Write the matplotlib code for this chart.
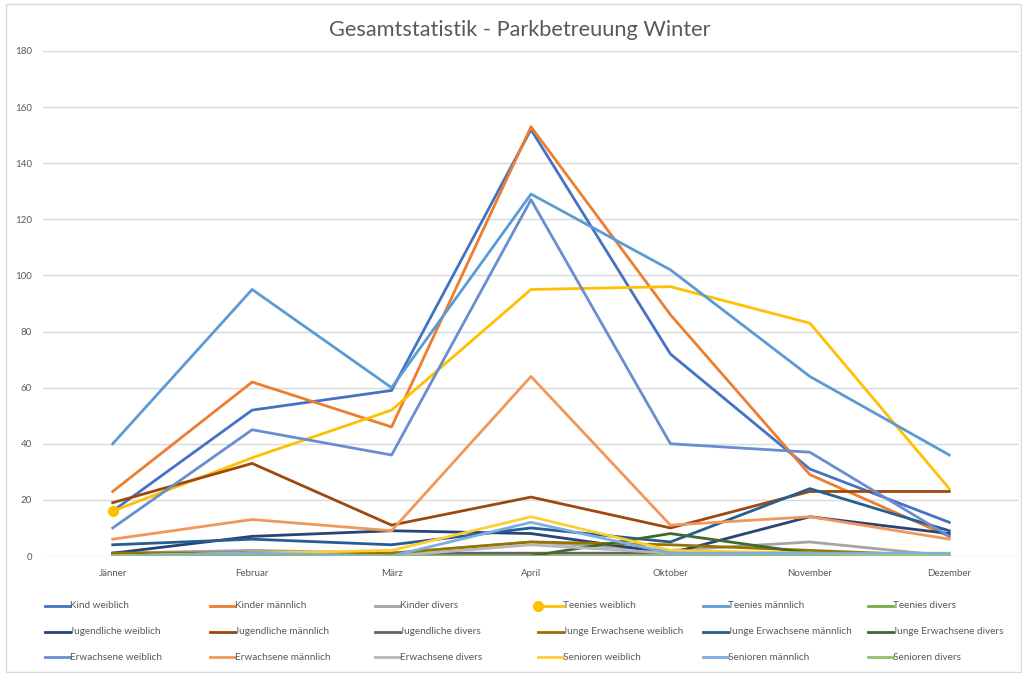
import matplotlib
matplotlib.use("Agg")
import matplotlib.pyplot as plt
from matplotlib.lines import Line2D
from matplotlib.patches import Rectangle

months = ["Jänner", "Februar", "März", "April", "Oktober", "November", "Dezember"]

kind_w = [16, 52, 59, 152, 72, 31, 12]
kinder_m = [23, 62, 46, 153, 86, 29, 7]
kinder_d = [1, 2, 1, 5, 2, 5, 0]
teenies_w = [16, 35, 52, 95, 96, 83, 24]
teenies_m = [40, 95, 60, 129, 102, 64, 36]
teenies_d = [0, 0, 0, 0, 0, 0, 0]
jugend_w = [1, 7, 9, 8, 1, 14, 8]
jugend_m = [19, 33, 11, 21, 10, 23, 23]
jugend_d = [1, 1, 1, 1, 1, 1, 0]
junge_w = [1, 1, 1, 5, 4, 2, 0]
junge_m = [4, 6, 4, 10, 5, 24, 9]
junge_d = [0, 0, 0, 0, 8, 1, 0]
erw_w = [10, 45, 36, 127, 40, 37, 7]
erw_m = [6, 13, 9, 64, 11, 14, 6]
erw_d = [0, 1, 0, 4, 1, 1, 0]
senioren_w = [0, 1, 2, 14, 2, 1, 0]
senioren_m = [0, 1, 0, 12, 1, 1, 1]
senioren_d = [0, 0, 0, 0, 0, 0, 0]

labels = ["Kind weiblich", "Kinder männlich", "Kinder divers",
          "Teenies weiblich", "Teenies männlich", "Teenies divers",
          "Jugendliche weiblich", "Jugendliche männlich", "Jugendliche divers",
          "Junge Erwachsene weiblich", "Junge Erwachsene männlich", "Junge Erwachsene divers",
          "Erwachsene weiblich", "Erwachsene männlich", "Erwachsene divers",
          "Senioren weiblich", "Senioren männlich", "Senioren divers"]
series = [kind_w, kinder_m, kinder_d, teenies_w, teenies_m, teenies_d,
          jugend_w, jugend_m, jugend_d, junge_w, junge_m, junge_d,
          erw_w, erw_m, erw_d, senioren_w, senioren_m, senioren_d]
colors = ["#4472C4", "#ED7D31", "#A5A5A5", "#FFC000", "#5B9BD5", "#70AD47",
          "#264478", "#9E480E", "#636363", "#997300", "#255E91", "#43682B",
          "#698ED0", "#F1975A", "#B7B7B7", "#FFCD33", "#7CAFDD", "#8CC168"]

plt.rcParams['font.family'] = ['Lato', 'DejaVu Sans']

W, H = 1022, 673
fig = plt.figure(figsize=(W / 100, H / 100), dpi=100)
ax = fig.add_axes([43 / W, 1 - 556 / H, (1019 - 43) / W, (556 - 51) / H])

x = list(range(len(months)))
for i, (vals, lab, col) in enumerate(zip(series, labels, colors)):
    if i == 3:
        # Teenies weiblich carries a single marker on the first point
        ax.plot(x, vals, color=col, lw=2.0, marker='o', markersize=7, markevery=[0],
                solid_joinstyle='round', label=lab)
    else:
        ax.plot(x, vals, color=col, lw=2.0, solid_joinstyle='round', label=lab)

ax.set_xlim(-0.5, 6.5)
ax.set_ylim(0, 180)
ax.set_yticks(range(0, 181, 20))
ax.set_xticks(x)
ax.set_xticklabels(months)
ax.grid(axis='y', color='#D9D9D9', lw=1)
ax.set_axisbelow(True)
for s in ax.spines.values():
    s.set_visible(False)
ax.tick_params(length=0, labelsize=7, labelcolor='#595959')
ax.tick_params(axis='y', pad=8)
ax.tick_params(axis='x', pad=9)

fig.text(520 / W, 1 - 30 / H, "Gesamtstatistik - Parkbetreuung Winter",
         ha='center', va='center', fontsize=15.7, color='#595959')

# legend, drawn row by row like Excel does
col_x = [45, 210, 375, 538, 703, 868]
row_y = [606, 632, 657]
for i, (lab, col) in enumerate(zip(labels, colors)):
    r, c = divmod(i, 6)
    x0 = col_x[c]
    y0 = 1 - row_y[r] / H
    fig.add_artist(Line2D([x0 / W, (x0 + 25) / W], [y0, y0], color=col, lw=2.0,
                          transform=fig.transFigure))
    if i == 3:
        fig.add_artist(Line2D([x0 / W], [y0], color=col, marker='o', markersize=7,
                              transform=fig.transFigure))
    fig.text((x0 + 25) / W, y0, lab, ha='left', va='center', fontsize=7.2,
             color='#595959')

fig.add_artist(Rectangle((6 / W, 1 - 672 / H), (1021 - 6) / W, (672 - 4) / H,
                         transform=fig.transFigure, fill=False,
                         edgecolor='#D9D9D9', lw=1))

fig.savefig("out.png", dpi=100)
